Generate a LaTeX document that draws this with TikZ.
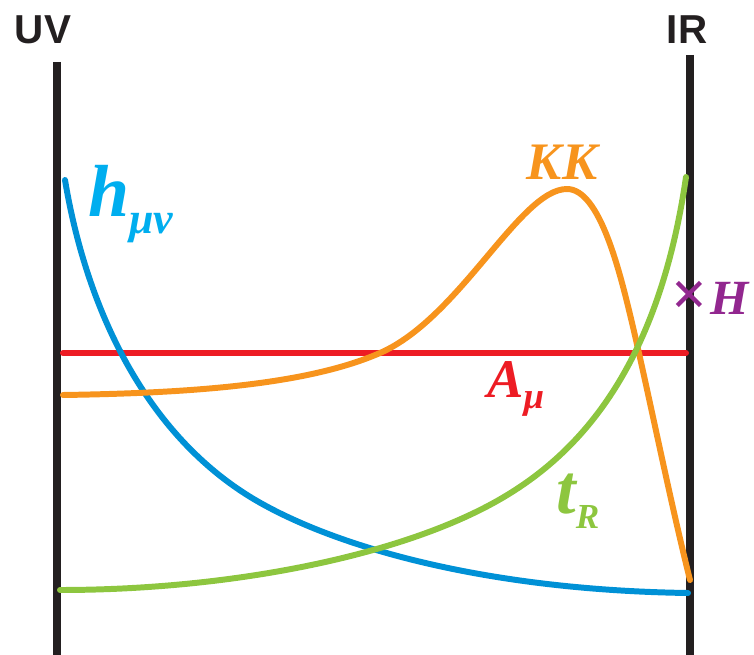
\documentclass[tikz,border=0pt]{standalone}
\usepackage{fontspec}
\setmainfont{Liberation Serif}
\newfontfamily\wallfont{Liberation Sans}
\definecolor{wallblack}{HTML}{231F20}
\definecolor{hblue}{HTML}{0091D6}
\definecolor{hlabel}{HTML}{00AEEF}
\definecolor{kkorange}{HTML}{F7941D}
\definecolor{ared}{HTML}{ED1C24}
\definecolor{tgreen}{HTML}{8DC63F}
\definecolor{hpurple}{HTML}{92278F}
\tikzset{
  wall/.style={line width=4pt, wallblack},
  mode/.style={line width=3.4pt, line cap=round},
  walllabel/.style={font=\wallfont\bfseries\fontsize{23}{23}\selectfont, text=wallblack},
  fieldlabel/.style={font=\bfseries\itshape, inner sep=0pt}
}

\begin{document}
\begin{tikzpicture}[x=0.02cm, y=-0.02cm]
  \useasboundingbox (0,0) rectangle (754,655);
  % branes
  \draw[wall] (57,62) -- (57,655);
  \draw[wall] (690,55) -- (690,655);
  \node[walllabel] (uv) at (43,30) {UV};
  \node[walllabel] (ir) at (687,30) {IR};
  % profiles
  \draw[mode, ared] (63,353) -- (686,353);
  \draw[mode, hblue] (65,180) .. controls (85,300) and (140,430) .. (252,498)
    .. controls (330,545) and (480,590) .. (688,593);
  \draw[mode, kkorange] (63,395) .. controls (200,393) and (310,383.5) .. (380,353)
    .. controls (460,318) and (520,189) .. (567,189)
    .. controls (600,189) and (620,272) .. (633,327)
    .. controls (650,400) and (670,500) .. (690,580);
  \draw[mode, tgreen] (60,590) .. controls (220,590) and (380,560) .. (480,510)
    .. controls (560,470) and (655,390) .. (686,177);
  % labels
  \node[fieldlabel, text=hlabel, anchor=base west] (hmn) at (88,217)
    {\fontsize{42}{42}\selectfont h\raisebox{-0.22em}{\fontsize{25}{25}\selectfont μν}};
  \node[fieldlabel, text=kkorange, anchor=base] (kk) at (562,180)
    {\fontsize{30}{30}\selectfont KK};
  \node[fieldlabel, text=ared, anchor=base west] (amu) at (487,397)
    {\fontsize{31}{31}\selectfont A\raisebox{-0.22em}{\fontsize{21}{21}\selectfont μ}};
  \node[fieldlabel, text=tgreen, anchor=base west] (tr) at (556,513)
    {\fontsize{40}{40}\selectfont t\raisebox{-0.22em}{\fontsize{20}{20}\selectfont R}};
  \node[text=hpurple, font=\bfseries\fontsize{36}{36}\selectfont, inner sep=0pt] (hcross) at (690,298) {×};
  \node[fieldlabel, text=hpurple, anchor=base west] (higgs) at (710,315)
    {\fontsize{28}{28}\selectfont H};
\end{tikzpicture}
\end{document}
